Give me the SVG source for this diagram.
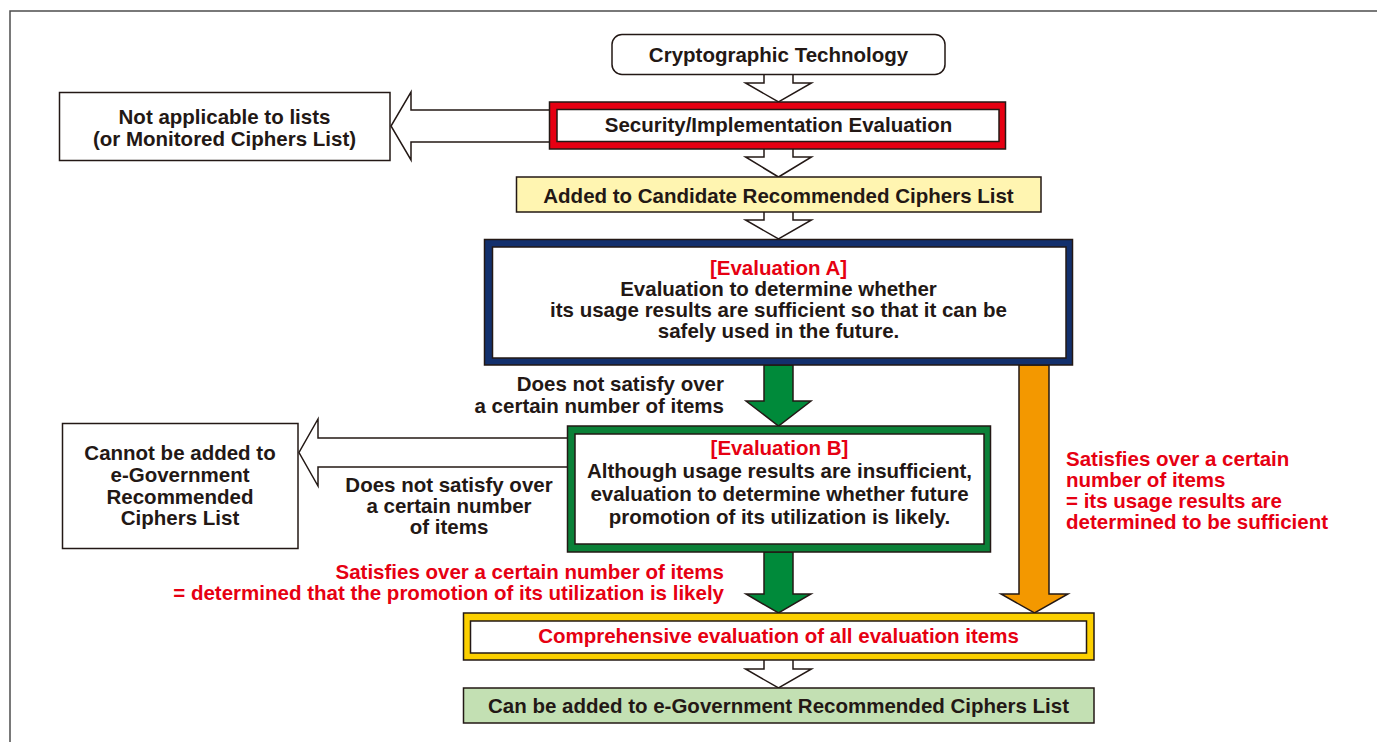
<svg xmlns="http://www.w3.org/2000/svg" width="1377" height="742" viewBox="0 0 1377 742">
  <style>
    text { font-family: "Liberation Sans", Arial, sans-serif; font-weight: bold; font-size: 20.5px; fill: #231815; }
    .c { text-anchor: middle; }
    .r { text-anchor: end; }
    .red { fill: #e60012; }
    .edge { stroke: #231815; stroke-width: 1.5; stroke-linejoin: miter; }
    .hollow { fill: #ffffff; stroke: #231815; stroke-width: 1.5; }
    .frame { fill: none; stroke: #4d4d4d; stroke-width: 1.5; }
  </style>

  <!-- page frame -->
  <path class="frame" d="M10,742 V11 H1377"/>

  <!-- connectors -->
  <g id="connectors">
    <!-- hollow down arrows on the main column -->
    <path class="hollow" d="M764,75 V83 H745.5 L778.5,102 L811.5,83 H793 V75"/>
    <path class="hollow" d="M764,149 V157 H745.5 L778.5,177 L811.5,157 H793 V149"/>
    <path class="hollow" d="M764,212 V220 H745.5 L778.5,239 L811.5,220 H793 V212"/>
    <path class="hollow" d="M764,660 V669 H745.5 L778.5,688 L811.5,669 H793 V660"/>
    <!-- hollow left arrows -->
    <path class="hollow" d="M550,110 H411 V92 L391,126 L411,160 V142 H550"/>
    <path class="hollow" d="M568,438 H318 V419 L299,452.5 L318,486 V467 H568"/>
    <!-- green arrows -->
    <path class="edge" fill="#008a3a" d="M764,365 V401 H746 L778.5,426 L811,401 H793 V365 Z"/>
    <path class="edge" fill="#008a3a" d="M764,552 V594 H746 L778.5,613 L811,594 H793 V552 Z"/>
    <!-- orange arrow -->
    <path class="edge" fill="#f39800" d="M1019,365 V594 H1001 L1034.5,613 L1068,594 H1049 V365 Z"/>
  </g>

  <!-- nodes -->
  <g id="crypto-tech">
    <rect class="edge" fill="#ffffff" x="612" y="34.5" width="333" height="40" rx="10"/>
    <text class="c" x="778.5" y="62">Cryptographic Technology</text>
  </g>

  <g id="security-eval">
    <rect class="edge" fill="#e60012" x="549.5" y="102" width="456" height="47"/>
    <rect class="edge" fill="#ffffff" x="557" y="109.5" width="442" height="32"/>
    <text class="c" x="778.5" y="132">Security/Implementation Evaluation</text>
  </g>

  <g id="not-applicable">
    <rect class="edge" fill="#ffffff" x="59.5" y="92.5" width="330.5" height="68"/>
    <text class="c" x="224.5" y="124">Not applicable to lists</text>
    <text class="c" x="224.5" y="146">(or Monitored Ciphers List)</text>
  </g>

  <g id="candidate-list">
    <rect class="edge" fill="#fff5b1" x="516.5" y="177" width="524.5" height="35"/>
    <text class="c" x="778.5" y="203">Added to Candidate Recommended Ciphers List</text>
  </g>

  <g id="evaluation-a">
    <rect class="edge" fill="#13306d" x="484.5" y="239.5" width="588" height="125.5"/>
    <rect class="edge" fill="#ffffff" x="492.5" y="247" width="573.5" height="111"/>
    <text class="c red" x="778.5" y="275">[Evaluation A]</text>
    <text class="c" x="778.5" y="296">Evaluation to determine whether</text>
    <text class="c" x="778.5" y="317">its usage results are sufficient so that it can be</text>
    <text class="c" x="778.5" y="338">safely used in the future.</text>
  </g>

  <g id="evaluation-b">
    <rect class="edge" fill="#0b8138" x="567.5" y="426" width="423" height="126"/>
    <rect class="edge" fill="#ffffff" x="575" y="434" width="409" height="110"/>
    <text class="c red" x="779.5" y="455">[Evaluation B]</text>
    <text class="c" x="779.5" y="478">Although usage results are insufficient,</text>
    <text class="c" x="779.5" y="501">evaluation to determine whether future</text>
    <text class="c" x="779.5" y="524">promotion of its utilization is likely.</text>
  </g>

  <g id="cannot-add">
    <rect class="edge" fill="#ffffff" x="62.5" y="423.5" width="235.5" height="125"/>
    <text class="c" x="180" y="460">Cannot be added to</text>
    <text class="c" x="180" y="482">e-Government</text>
    <text class="c" x="180" y="504">Recommended</text>
    <text class="c" x="180" y="525">Ciphers List</text>
  </g>

  <g id="comprehensive">
    <rect class="edge" fill="#fcd000" x="463.5" y="613" width="630.5" height="47"/>
    <rect class="edge" fill="#ffffff" x="470.5" y="621" width="616" height="32"/>
    <text class="c red" x="778.5" y="643">Comprehensive evaluation of all evaluation items</text>
  </g>

  <g id="can-add">
    <rect class="edge" fill="#c3e0b3" x="463.5" y="688" width="630.5" height="35"/>
    <text class="c" x="778.5" y="713">Can be added to e-Government Recommended Ciphers List</text>
  </g>

  <!-- branch labels -->
  <g id="labels">
    <text class="r" x="724" y="391">Does not satisfy over</text>
    <text class="r" x="724" y="413">a certain number of items</text>
    <text class="c" x="449" y="492">Does not satisfy over</text>
    <text class="c" x="449" y="513">a certain number</text>
    <text class="c" x="449" y="534">of items</text>
    <text class="r red" x="724" y="579">Satisfies over a certain number of items</text>
    <text class="r red" x="724" y="600">= determined that the promotion of its utilization is likely</text>
    <text class="red" x="1066" y="466">Satisfies over a certain</text>
    <text class="red" x="1066" y="487">number of items</text>
    <text class="red" x="1066" y="508">= its usage results are</text>
    <text class="red" x="1066" y="529">determined to be sufficient</text>
  </g>
</svg>
